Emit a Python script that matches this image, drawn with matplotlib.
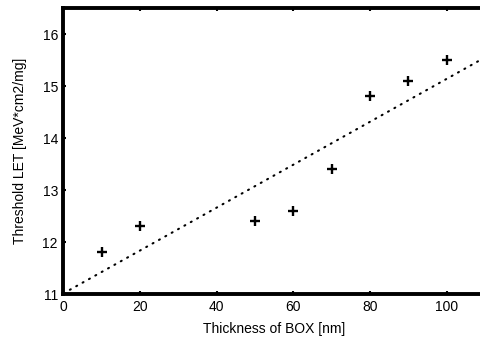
import numpy as np
import matplotlib
matplotlib.use("Agg")
import matplotlib.pyplot as plt

plt.rcParams['font.family'] = ['Liberation Sans', 'DejaVu Sans']

thickness = [10, 20, 50, 60, 70, 80, 90, 100]
threshold_let = [11.8, 12.3, 12.4, 12.6, 13.4, 14.8, 15.1, 15.5]
x_ticks = [0, 20, 40, 60, 80, 100]
y_ticks = [11, 12, 13, 14, 15, 16]

fig = plt.figure(figsize=(4.81, 3.45), dpi=100)
ax = fig.add_axes([63.5/481, (345-294)/345, (485-63.5)/481, (294-8)/345])

slope, intercept = np.polyfit(thickness, threshold_let, 1)
xf = np.array([0, 110])
ax.plot(xf, slope*xf + intercept, color='black', linestyle=(0, (0.5, 3.0)), linewidth=1.5,
        dash_capstyle='round')
ax.plot(thickness, threshold_let, linestyle='none', marker='+', color='black',
        markersize=7, markeredgewidth=1.7)

ax.set_xlim(0, 110)
ax.set_ylim(11, 16.5)
ax.set_xticks(x_ticks)
ax.set_yticks(y_ticks)
ax.tick_params(direction='in', length=2.5, width=1.5, top=True, right=True,
               labelsize=10, pad=4)
for s in ax.spines.values():
    s.set_linewidth(2.8)
ax.spines['right'].set_visible(False)
ax.set_xlabel('Thickness of BOX [nm]', fontsize=10, labelpad=6)
ax.set_ylabel('Threshold LET [MeV*cm2/mg]', fontsize=10, labelpad=11)

fig.savefig('out.png', dpi=100)
